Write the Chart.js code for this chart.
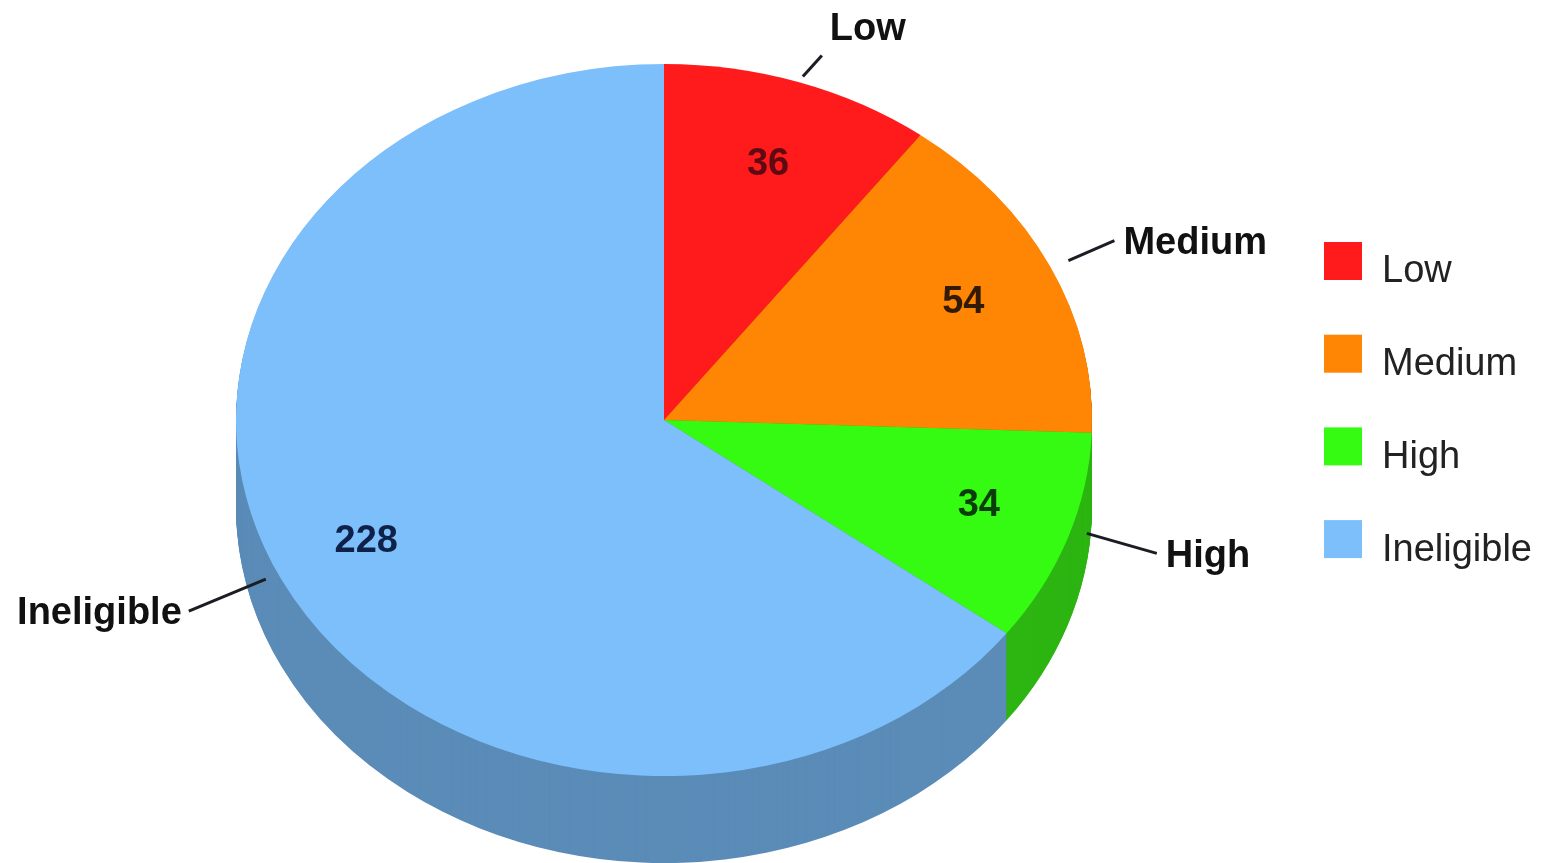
<!DOCTYPE html>
<html>
<head>
<meta charset="utf-8">
<title>Pie chart</title>
<script src="https://cdn.jsdelivr.net/npm/chart.js@4"></script>
<style>
    body { margin: 0; background: #fff; overflow: hidden; }
    canvas { display: block; }
</style>
</head>
<body>
<canvas id="pieChart" width="1543" height="863"></canvas>
<script>
const categories = ["Low", "Medium", "High", "Ineligible"];
const counts = [36, 54, 34, 228];
const topColors = ["#ff1a1c", "#ff8605", "#35fb12", "#7dbffb"];
const sideColors = ["#b21214", "#b25d03", "#2db512", "#5b8cb8"];
const valueColors = ["#5e0a12", "#331a05", "#0a3d08", "#0f2148"];

// layout
const centerX = 664, centerY = 420;
const radiusX = 428, radiusY = 356, depth = 87;
const valueDist = 0.77;
const valueNudgeX = [0, 2, 4, -3];
const valueNudgeY = [5, 1, -6, -1];
const leaderFrom = [1.02, 1.05, 1.05, 1.03];
const leaderNudgeX = [1, -1, -1, -4];
const leaderNudgeY = [1, 2, -11, -5];
const leaderRunX = [19, 46, 70, -77];
const leaderRunY = [-21, -20, 20, 32];
const nameOffsetX = [8, 9, 9, -7];
const nameOffsetY = [-26, 3, 3, 2];
const nameAlign = ["left", "left", "left", "right"];
const legendX = 1324, legendTop = 242, legendStep = 92.7, legendBox = 38;
const fontFamily = '"Liberation Sans", Arial, sans-serif';

// squashes the circle into an ellipse and stacks dark copies underneath for the side wall
const tiltPlugin = {
    id: "tilt",
    beforeDatasetsDraw(chart) {
        const ctx = chart.ctx;
        const arcs = chart.getDatasetMeta(0).data;
        for(let d = depth; d > 0; d--) {
            ctx.save();
            tilt(ctx, arcs[0], d);
            arcs.forEach((arc, i) => {
                const color = arc.options.backgroundColor;
                arc.options.backgroundColor = sideColors[i];
                arc.draw(ctx);
                arc.options.backgroundColor = color;
            });
            ctx.restore();
        }
        ctx.save();
        tilt(ctx, arcs[0], 0);
    },
    afterDatasetsDraw(chart) {
        chart.ctx.restore();
    }
};

function tilt(ctx, arc, offset) {
    ctx.translate(centerX, centerY + offset);
    ctx.scale(radiusX / arc.outerRadius, radiusY / arc.outerRadius);
    ctx.translate(-arc.x, -arc.y);
}

function pointAt(arc, dist) {
    const mid = (arc.startAngle + arc.endAngle) / 2;
    return {
        x: centerX + radiusX * dist * Math.cos(mid),
        y: centerY + radiusY * dist * Math.sin(mid)
    };
}

const labelPlugin = {
    id: "labels",
    afterDraw(chart) {
        const ctx = chart.ctx;
        const arcs = chart.getDatasetMeta(0).data;
        ctx.save();
        ctx.textBaseline = "middle";
        arcs.forEach((arc, i) => {
            // value on the slice
            const v = pointAt(arc, valueDist);
            ctx.font = "bold 38px " + fontFamily;
            ctx.textAlign = "center";
            ctx.fillStyle = valueColors[i];
            ctx.fillText(counts[i], v.x + valueNudgeX[i], v.y + valueNudgeY[i]);

            // leader line and name
            const start = pointAt(arc, leaderFrom[i]);
            const ax = start.x + leaderNudgeX[i];
            const ay = start.y + leaderNudgeY[i];
            const bx = ax + leaderRunX[i];
            const by = ay + leaderRunY[i];
            ctx.strokeStyle = "#1c1c24";
            ctx.lineWidth = 3;
            ctx.beginPath();
            ctx.moveTo(ax, ay);
            ctx.lineTo(bx, by);
            ctx.stroke();
            ctx.textAlign = nameAlign[i];
            ctx.fillStyle = "#111";
            ctx.fillText(categories[i], bx + nameOffsetX[i], by + nameOffsetY[i]);

            // legend row, text sits a bit lower than its box
            const y = legendTop + legendStep * i;
            ctx.fillStyle = topColors[i];
            ctx.fillRect(legendX, y, legendBox, legendBox);
            ctx.font = "38px " + fontFamily;
            ctx.textAlign = "left";
            ctx.fillStyle = "#222";
            ctx.fillText(categories[i], legendX + 58, y + legendBox / 2 + 11);
        });
        ctx.restore();
    }
};

new Chart(document.getElementById("pieChart"), {
    type: "pie",
    data: {
        labels: categories,
        datasets: [{
            data: counts,
            backgroundColor: topColors,
            borderWidth: 0,
            clip: false
        }]
    },
    plugins: [tiltPlugin, labelPlugin],
    options: {
        responsive: false,
        animation: false,
        events: [],
        plugins: {
            legend: { display: false },
            tooltip: { enabled: false }
        }
    }
});
</script>
</body>
</html>
